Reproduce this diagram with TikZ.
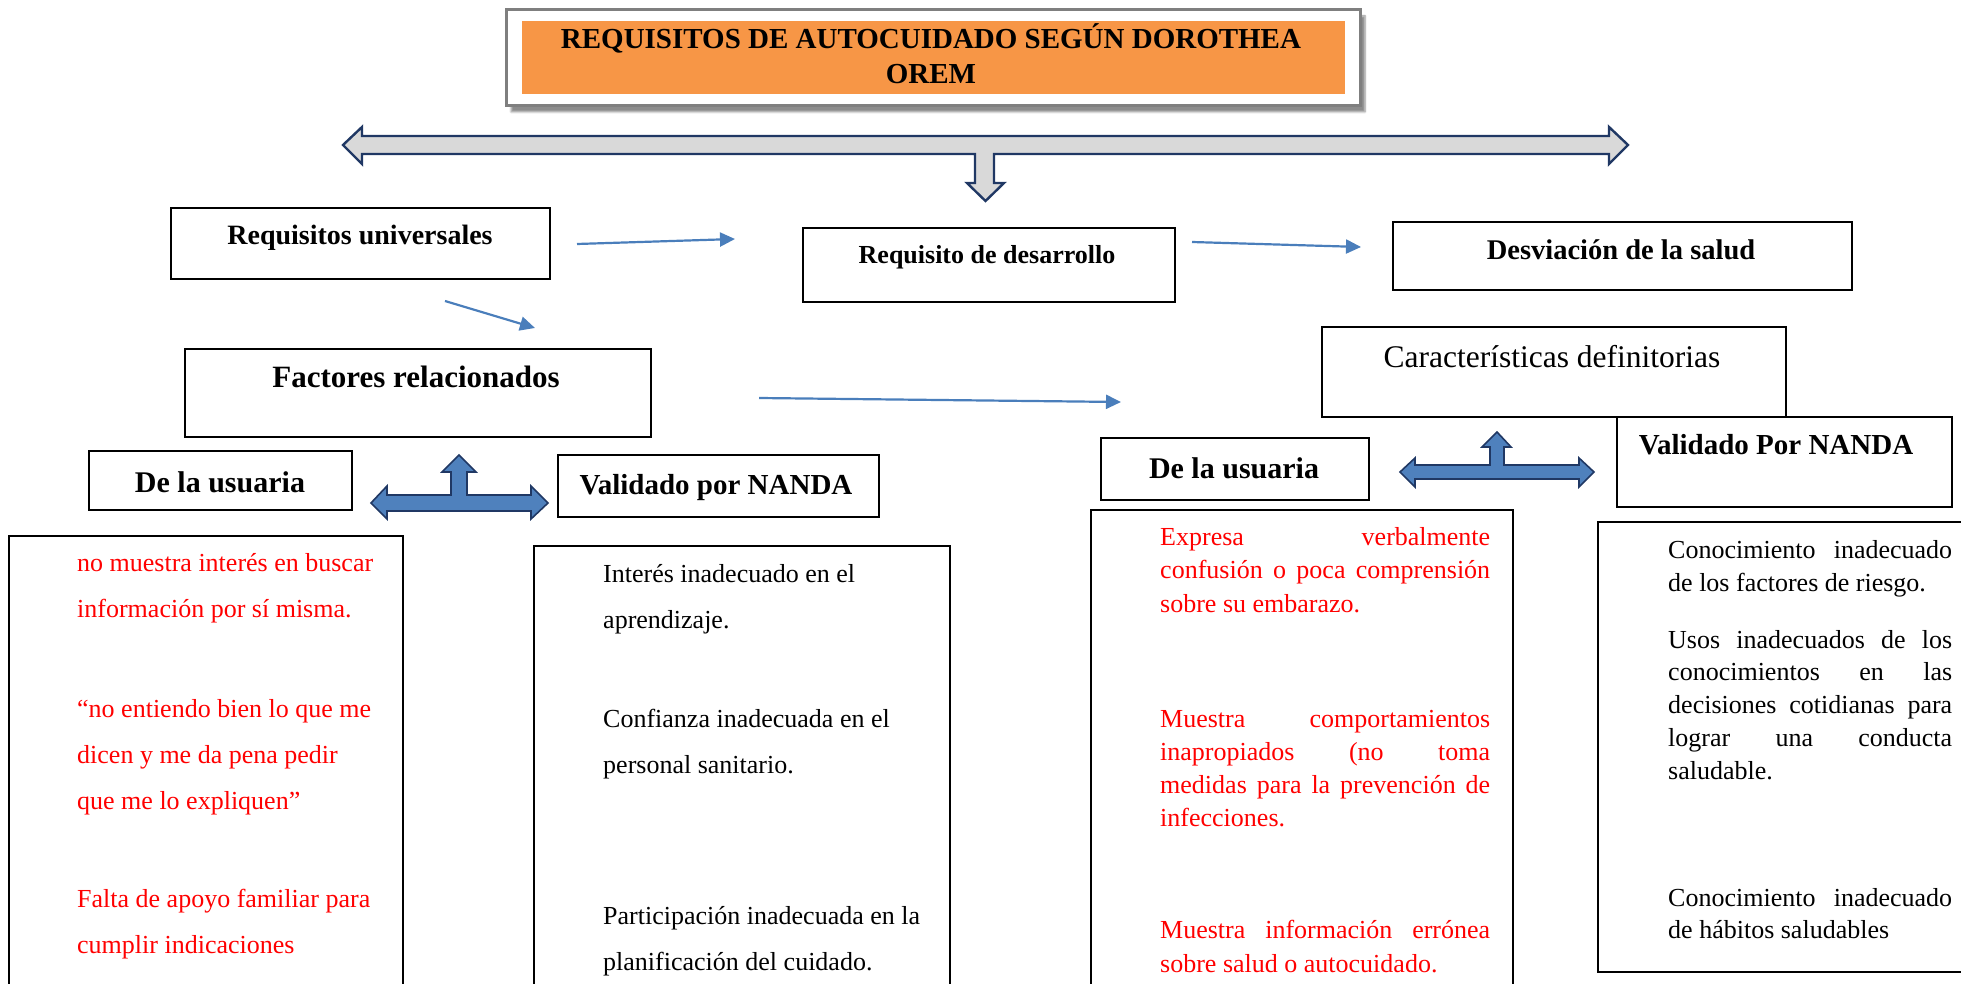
\documentclass[tikz,border=0pt]{standalone}
\usepackage{fontspec}
\setmainfont{Liberation Serif}
\usetikzlibrary{arrows.meta,fit,shadows.blur}
\definecolor{orangeF}{HTML}{F79646}
\definecolor{titlegray}{HTML}{7F7F7F}
\definecolor{arrowgray}{HTML}{D9D9D9}
\definecolor{navy}{HTML}{203864}
\definecolor{fatblue}{HTML}{4F81BD}
\definecolor{thinblue}{HTML}{4A7EBB}
\definecolor{redtxt}{HTML}{FF0000}
\newcommand\myfs[2]{\fontsize{#1}{#2}\selectfont}
\newcommand\jl[1]{\makebox[\linewidth][s]{#1}}
\begin{document}
\begin{tikzpicture}[x=1pt,y=-1pt,
  box/.style={draw=black, line width=2pt, inner sep=0pt, outer sep=0pt},
  lbl/.style={anchor=base, inner sep=0pt},
  para/.style={anchor=base west, inner sep=0pt},
  thinarrow/.style={draw=thinblue, line width=2.2pt, -{Triangle[length=15pt,width=14pt]}},
  fat/.style={fill=fatblue, draw=navy, line width=1.6pt, line join=miter},
  bigarrow/.style={fill=arrowgray, draw=navy, line width=2.4pt, line join=miter},
  ]
\path[use as bounding box] (0,0) rectangle (1961,984);
\clip (0,0) rectangle (1961,984);

% title
\node[box, draw=titlegray, line width=3pt, fill=white,
      blur shadow={shadow xshift=5pt, shadow yshift=-6pt, shadow blur steps=6, shadow opacity=45},
      fit={(506,10) (1360,106)}] (tout) {};
\node[inner sep=0pt, fill=orangeF, fit={(522,21) (1345,94)}] (tin) {};
\node[lbl] (ttext) at (931,49) {\parbox[t]{820pt}{\centering\myfs{29}{35}\bfseries REQUISITOS DE AUTOCUIDADO SEGÚN DOROTHEA\\OREM}};

% big gray arrow
\draw[bigarrow] (343,145) -- (362,127) -- (362,136) -- (1609,136) -- (1609,127) -- (1628,145) -- (1609,164) -- (1609,154) -- (994,154) -- (994,183) -- (1004,183) -- (985.5,201) -- (967,183) -- (975,183) -- (975,154) -- (362,154) -- (362,164) -- cycle;

% header boxes
\node[box, fit={(171,208) (550,279)}] (bRU) {};
\node[lbl, font=\myfs{28}{32}\bfseries] (tRU) at (360,244) {Requisitos universales};
\node[box, fit={(803,228) (1175,302)}] (bRD) {};
\node[lbl, font=\myfs{26}{30}\bfseries] (tRD) at (987,263) {Requisito de desarrollo};
\node[box, fit={(1393,222) (1852,290)}] (bDS) {};
\node[lbl, font=\myfs{28.5}{32}\bfseries] (tDS) at (1621,260) {Desviación de la salud};
\node[box, fit={(185,349) (651,437)}] (bFR) {};
\node[lbl, font=\myfs{31}{35}\bfseries] (tFR) at (416,387) {Factores relacionados};
\node[box, fit={(1322,327) (1786,417)}] (bCD) {};
\node[lbl, font=\myfs{31.5}{35}] (tCD) at (1552,367) {Características definitorias};
\node[box, fit={(89,451) (352,510)}] (bUL) {};
\node[lbl, font=\myfs{30}{34}\bfseries] (tUL) at (220,492) {De la usuaria};
\node[box, fit={(558,455) (879,517)}] (bVL) {};
\node[lbl, font=\myfs{29}{33}\bfseries] (tVL) at (716,494) {Validado por NANDA};
\node[box, fit={(1101,438) (1369,500)}] (bUR) {};
\node[lbl, font=\myfs{30}{34}\bfseries] (tUR) at (1234,478) {De la usuaria};
\node[box, fit={(1617,417) (1952,507)}] (bVR) {};
\node[lbl, font=\myfs{29}{33}\bfseries] (tVR) at (1776,454) {Validado Por NANDA};

% thin arrows
\coordinate (a1s) at (577,244); \coordinate (a1e) at (735,239);
\coordinate (a2s) at (445,301); \coordinate (a2e) at (535,328);
\coordinate (a3s) at (1192,242); \coordinate (a3e) at (1361,247);
\coordinate (a4s) at (759,398); \coordinate (a4e) at (1121,402);
\draw[thinarrow] (a1s) -- (a1e);
\draw[thinarrow] (a2s) -- (a2e);
\draw[thinarrow] (a3s) -- (a3e);
\draw[thinarrow] (a4s) -- (a4e);

% fat blue T arrows
\draw[fat] (371,503) -- (387,486) -- (387,495) -- (451,495) -- (451,472) -- (442,472) -- (459,455) -- (476,472) -- (467,472) -- (467,495) -- (531,495) -- (531,486) -- (548,503) -- (531,519) -- (531,511) -- (387,511) -- (387,519) -- cycle;
\draw[fat] (1400,472) -- (1415,458) -- (1415,465) -- (1490,465) -- (1490,447) -- (1482,447) -- (1497,432) -- (1511,447) -- (1504,447) -- (1504,465) -- (1579,465) -- (1579,458) -- (1594,472) -- (1579,487) -- (1579,479) -- (1415,479) -- (1415,487) -- cycle;

% lower boxes
\node[box, fit={(9,536) (403,1000)}] (bL1) {};
\node[box, fit={(534,546) (950,1000)}] (bL2) {};
\node[box, fit={(1091,510) (1513,1000)}] (bR1) {};
\node[box, fit={(1598,522) (1975,972)}] (bR2) {};

% left red text
\node[para, text=redtxt] (p1) at (77,571) {\parbox[t]{320pt}{\myfs{26}{46}no muestra interés en buscar\\información por sí misma.}};
\node[para, text=redtxt] (p2) at (77,717) {\parbox[t]{320pt}{\myfs{26}{46}“no entiendo bien lo que me\\dicen y me da pena pedir\\que me lo expliquen”}};
\node[para, text=redtxt] (p3) at (77,907) {\parbox[t]{320pt}{\myfs{26}{46}Falta de apoyo familiar para\\cumplir indicaciones}};

% left NANDA text
\node[para] (q1) at (603,582) {\parbox[t]{340pt}{\myfs{26}{46}Interés inadecuado en el\\aprendizaje.}};
\node[para] (q2) at (603,727) {\parbox[t]{340pt}{\myfs{26}{46}Confianza inadecuada en el\\personal sanitario.}};
\node[para] (q3) at (603,924) {\parbox[t]{340pt}{\myfs{26}{46}Participación inadecuada en la\\planificación del cuidado.}};

% right red text
\node[para, text=redtxt] (r1) at (1160,545) {\parbox[t]{330pt}{\myfs{26}{33.5}\jl{Expresa verbalmente}\\\jl{confusión o poca comprensión}\\sobre su embarazo.}};
\node[para, text=redtxt] (r2) at (1160,727) {\parbox[t]{330pt}{\myfs{26}{33}\jl{Muestra comportamientos}\\\jl{inapropiados (no toma}\\\jl{medidas para la prevención de}\\infecciones.}};
\node[para, text=redtxt] (r3) at (1160,938) {\parbox[t]{330pt}{\myfs{26}{34}\jl{Muestra información errónea}\\sobre salud o autocuidado.}};

% right NANDA text
\node[para] (s1) at (1668,558) {\parbox[t]{284pt}{\myfs{26}{33}\jl{Conocimiento inadecuado}\\de los factores de riesgo.}};
\node[para] (s2) at (1668,648) {\parbox[t]{284pt}{\myfs{26}{32.8}\jl{Usos inadecuados de los}\\\jl{conocimientos en las}\\\jl{decisiones cotidianas para}\\\jl{lograr una conducta}\\saludable.}};
\node[para] (s3) at (1668,906) {\parbox[t]{284pt}{\myfs{26}{32.5}\jl{Conocimiento inadecuado}\\de hábitos saludables}};
\end{tikzpicture}
\end{document}
